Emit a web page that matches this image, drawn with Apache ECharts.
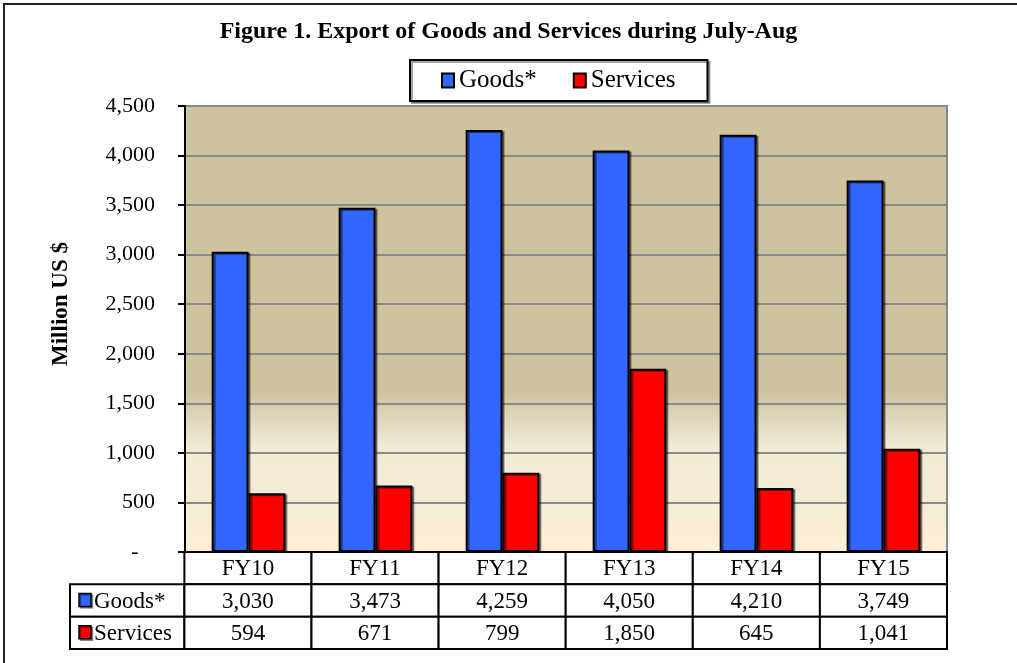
<!DOCTYPE html>
<html>
<head>
<meta charset="utf-8">
<script src="https://cdn.jsdelivr.net/npm/echarts@6/dist/echarts.min.js"></script>
<style>
  html, body { margin: 0; padding: 0; background: #fff; }
  #main { width: 1017px; height: 663px; }
</style>
</head>
<body>
<div id="main"></div>
<script>
// data
var categories = ['FY10', 'FY11', 'FY12', 'FY13', 'FY14', 'FY15'];
var goods = [3030, 3473, 4259, 4050, 4210, 3749];
var services = [594, 671, 799, 1850, 645, 1041];
var seriesNames = ['Goods*', 'Services'];
var yTicks = [0, 500, 1000, 1500, 2000, 2500, 3000, 3500, 4000, 4500];

var colors = ['#3366FF', '#FF0000'];
var serif = '"Liberation Serif", "Times New Roman", serif';

function fmt(v) {
  return v.toLocaleString('en-US');
}

// 表格单元格: [列, 行, 文字, 类型]
var cells = [];
categories.forEach(function (c, i) { cells.push([i, 2, c, 'head']); });
cells.push([-1, 1, seriesNames[0], 'name0']);
goods.forEach(function (v, i) { cells.push([i, 1, fmt(v), 'val']); });
cells.push([-1, 0, seriesNames[1], 'name1']);
services.forEach(function (v, i) { cells.push([i, 0, fmt(v), 'val']); });

var myChart = echarts.init(document.getElementById('main'));

var option = {
  backgroundColor: '#fff',
  animation: false,
  title: {
    text: 'Figure 1. Export of Goods and Services during July-Aug',
    left: 'center',
    top: 15,
    textStyle: { fontFamily: serif, fontWeight: 'bold', fontSize: 24, color: '#000' }
  },
  legend: {
    data: seriesNames,
    left: 410,
    top: 60,
    padding: [8, 32, 8, 31],
    itemGap: 36,
    itemWidth: 12,
    itemHeight: 14,
    icon: 'rect',
    borderColor: '#000',
    borderWidth: 2,
    backgroundColor: '#fff',
    shadowColor: 'rgba(0,0,0,0.35)',
    shadowOffsetX: 2,
    shadowOffsetY: 2,
    textStyle: { fontFamily: serif, fontSize: 25, color: '#000' }
  },
  graphic: [{
    type: 'rect',
    silent: true,
    shape: { x: 4, y: 4, width: 1030, height: 700 },
    style: { fill: 'none', stroke: '#222', lineWidth: 2 }
  }],
  grid: [
    {
      left: 185, right: 70, top: 106, bottom: 111,
      show: true,
      borderColor: '#888',
      borderWidth: 2,
      backgroundColor: new echarts.graphic.LinearGradient(0, 0, 0, 1, [
        { offset: 0, color: '#CFC29F' },
        { offset: 0.64, color: '#CFC29F' },
        { offset: 0.76, color: '#F0EAD6' },
        { offset: 1, color: '#FCEFD4' }
      ])
    },
    { left: 70, right: 70, top: 552, bottom: 14 }
  ],
  xAxis: [
    {
      type: 'category',
      gridIndex: 0,
      data: categories,
      axisLine: { lineStyle: { color: '#000', width: 2 } },
      axisTick: { show: false },
      axisLabel: { show: false }
    },
    {
      type: 'value',
      gridIndex: 1,
      min: -0.9,
      max: 6,
      show: false
    }
  ],
  yAxis: [
    {
      type: 'value',
      gridIndex: 0,
      min: 0,
      max: 4500,
      interval: 500,
      name: 'Million US $',
      nameLocation: 'middle',
      nameGap: 112,
      nameTextStyle: { fontFamily: serif, fontWeight: 'bold', fontSize: 23, color: '#000', padding: [0, 0, 0, 50] },
      axisLine: { show: true, lineStyle: { color: '#000', width: 2 } },
      axisTick: { show: true, length: 7, lineStyle: { color: '#000', width: 2 } },
      axisLabel: {
        margin: 30,
        fontFamily: serif,
        fontSize: 22,
        color: '#000',
        formatter: function (v) {
          if (yTicks.indexOf(v) < 0) return '';
          return v === 0 ? '-   ' : fmt(v);
        }
      },
      splitLine: { show: true, lineStyle: { color: '#8a8a8a', width: 2 } }
    },
    {
      type: 'value',
      gridIndex: 1,
      min: 0,
      max: 3,
      show: false
    }
  ],
  series: [
    {
      name: seriesNames[0],
      type: 'bar',
      xAxisIndex: 0,
      yAxisIndex: 0,
      data: goods,
      barGap: '0%',
      barCategoryGap: '42%',
      itemStyle: {
        color: colors[0],
        borderColor: '#000',
        borderWidth: 2,
        shadowColor: 'rgba(0,0,0,0.45)',
        shadowOffsetX: 2,
        shadowOffsetY: 1
      }
    },
    {
      name: seriesNames[1],
      type: 'bar',
      xAxisIndex: 0,
      yAxisIndex: 0,
      data: services,
      itemStyle: {
        color: colors[1],
        borderColor: '#000',
        borderWidth: 2,
        shadowColor: 'rgba(0,0,0,0.45)',
        shadowOffsetX: 2,
        shadowOffsetY: 1
      }
    },
    {
      // 数据表
      type: 'custom',
      xAxisIndex: 1,
      yAxisIndex: 1,
      data: cells,
      silent: true,
      renderItem: function (params, api) {
        var item = cells[params.dataIndex];
        var col = item[0], row = item[1], text = item[2], kind = item[3];
        var x0 = col === -1 ? -0.9 : col;
        var x1 = col === -1 ? 0 : col + 1;
        var p0 = api.coord([x0, row + 1]);
        var p1 = api.coord([x1, row]);
        var w = p1[0] - p0[0], h = p1[1] - p0[1];
        var children = [{
          type: 'rect',
          shape: { x: p0[0], y: p0[1], width: w, height: h },
          style: { fill: '#fff', stroke: '#000', lineWidth: 2 }
        }];
        if (kind === 'name0' || kind === 'name1') {
          var ci = kind === 'name0' ? 0 : 1;
          children.push({
            type: 'rect',
            shape: { x: p0[0] + 9, y: p0[1] + h / 2 - 7, width: 12, height: 13 },
            style: { fill: colors[ci], stroke: '#000', lineWidth: 1.5, shadowColor: 'rgba(0,0,0,0.4)', shadowOffsetX: 1.5, shadowOffsetY: 1.5 }
          });
          children.push({
            type: 'text',
            style: {
              x: p0[0] + 24, y: p0[1] + h / 2 + 1, text: text,
              align: 'left', verticalAlign: 'middle',
              font: '23px ' + serif, fill: '#000'
            }
          });
        } else {
          children.push({
            type: 'text',
            style: {
              x: p0[0] + w / 2, y: p0[1] + h / 2 + 1, text: text,
              align: 'center', verticalAlign: 'middle',
              font: '23px ' + serif, fill: '#000'
            }
          });
        }
        return { type: 'group', children: children };
      }
    }
  ]
};

myChart.setOption(option);
</script>
</body>
</html>
